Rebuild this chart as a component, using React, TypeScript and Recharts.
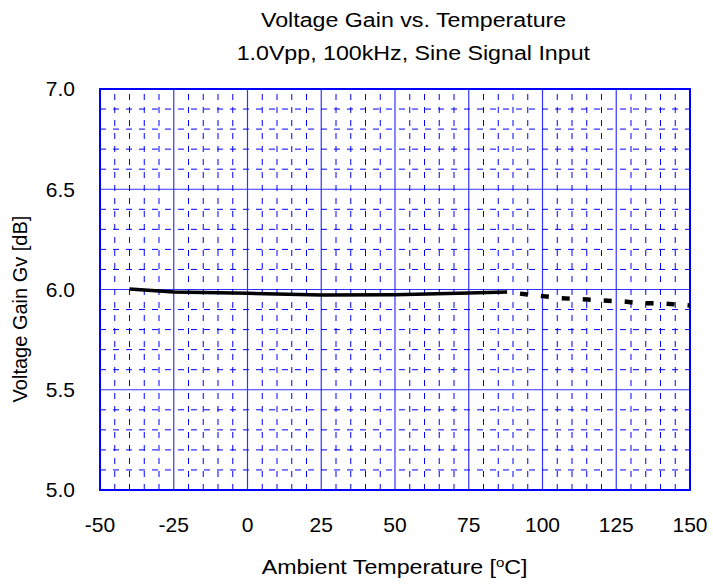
import {
  LineChart,
  Line,
  XAxis,
  YAxis,
  CartesianGrid,
  ReferenceLine,
  ReferenceArea,
} from "recharts";

// measured curve, solid part (guaranteed range)
const solidTemp = [-40, -25, 0, 25, 50, 75, 88];
const solidGain = [6.003, 5.987, 5.981, 5.972, 5.974, 5.982, 5.987];

// dashed part (reference only)
const dashTemp = [88, 95, 100, 106, 115, 122, 127, 133, 141, 150];
const dashGain = [5.987, 5.975, 5.967, 5.957, 5.95, 5.944, 5.941, 5.932, 5.93, 5.92];

const xTicks = [-50, -25, 0, 25, 50, 75, 100, 125, 150];
const yTicks = [5.0, 5.5, 6.0, 6.5, 7.0];

const xMinor = [
  -45, -40, -35, -30, -20, -15, -10, -5, 5, 10, 15, 20, 30, 35, 40, 45, 55, 60,
  65, 70, 80, 85, 90, 95, 105, 110, 115, 120, 130, 135, 140, 145,
];
const yMinor = [
  5.1, 5.2, 5.3, 5.4, 5.6, 5.7, 5.8, 5.9, 6.1, 6.2, 6.3, 6.4, 6.6, 6.7, 6.8,
  6.9,
];

const titleLines = ["Voltage Gain vs. Temperature", "1.0Vpp, 100kHz, Sine Signal Input"];

const solidData = solidTemp.map((t, i) => ({ t, g: solidGain[i] }));
const dashData = dashTemp.map((t, i) => ({ t, g: dashGain[i] }));

const FONT = "'Liberation Sans', Arial, sans-serif";
const BLUE = "#0000ff";

const wide = {
  display: "inline-block",
  transform: "scaleX(1.16)",
  whiteSpace: "nowrap" as const,
};

export default function App() {
  return (
    <div
      style={{
        position: "relative",
        width: 713,
        height: 584,
        background: "#fff",
        fontFamily: FONT,
        color: "#000",
      }}
    >
      <style>{"body{margin:0}"}</style>
      <div
        style={{
          position: "absolute",
          left: 0,
          width: 827,
          top: 3.5,
          textAlign: "center",
          fontSize: 20,
          lineHeight: "33px",
        }}
      >
        {titleLines.map((s) => (
          <div key={s}>
            <span style={wide}>{s}</span>
          </div>
        ))}
      </div>

      <LineChart
        width={713}
        height={584}
        margin={{ top: 89, right: 23, left: 0, bottom: 0 }}
      >
        <CartesianGrid stroke="#3333ff" strokeWidth={1.2} />
        <XAxis
          type="number"
          dataKey="t"
          domain={[-50, 150]}
          ticks={xTicks}
          height={94}
          tickLine={false}
          axisLine={false}
          tickSize={0}
          tickMargin={27}
          tick={{ fill: "#000", fontSize: 21, fontFamily: FONT }}
          allowDuplicatedCategory={false}
        />
        <YAxis
          type="number"
          dataKey="g"
          domain={[5, 7]}
          ticks={yTicks}
          width={100}
          tickLine={false}
          axisLine={false}
          tickSize={0}
          tickMargin={25}
          tickFormatter={(v: number) => v.toFixed(1)}
          tick={{ fill: "#000", fontSize: 21, fontFamily: FONT }}
        />
        {xMinor.map((v) => (
          <ReferenceLine
            key={"x" + v}
            x={v}
            stroke={BLUE}
            strokeWidth={1}
            strokeDasharray="6 7"
          />
        ))}
        {yMinor.map((v) => (
          <ReferenceLine
            key={"y" + v}
            y={v}
            stroke={BLUE}
            strokeWidth={1}
            strokeDasharray="6 7"
          />
        ))}
        <ReferenceArea
          x1={-50}
          x2={150}
          y1={5}
          y2={7}
          fill="none"
          stroke={BLUE}
          strokeWidth={2}
          ifOverflow="visible"
        />
        <Line
          data={solidData}
          dataKey="g"
          type="linear"
          stroke="#000"
          strokeWidth={3.5}
          dot={false}
          activeDot={false}
          isAnimationActive={false}
        />
        <Line
          data={dashData}
          dataKey="g"
          type="linear"
          stroke="#000"
          strokeWidth={4.5}
          strokeDasharray="8 13"
          strokeDashoffset={8}
          dot={false}
          activeDot={false}
          isAnimationActive={false}
        />
      </LineChart>

      <div
        style={{
          position: "absolute",
          left: 0,
          width: 789,
          top: 551,
          textAlign: "center",
          fontSize: 20,
          lineHeight: "24px",
        }}
      >
        <span style={wide}>
          Ambient Temperature [
          <sup style={{ fontSize: 13, verticalAlign: "7px" }}>o</sup>C]
        </span>
      </div>
      <div
        style={{
          position: "absolute",
          left: 20,
          top: 309,
          transform: "translate(-50%, -50%) rotate(-90deg)",
          fontSize: 20,
          whiteSpace: "nowrap",
        }}
      >
        Voltage Gain Gv [dB]
      </div>
    </div>
  );
}
